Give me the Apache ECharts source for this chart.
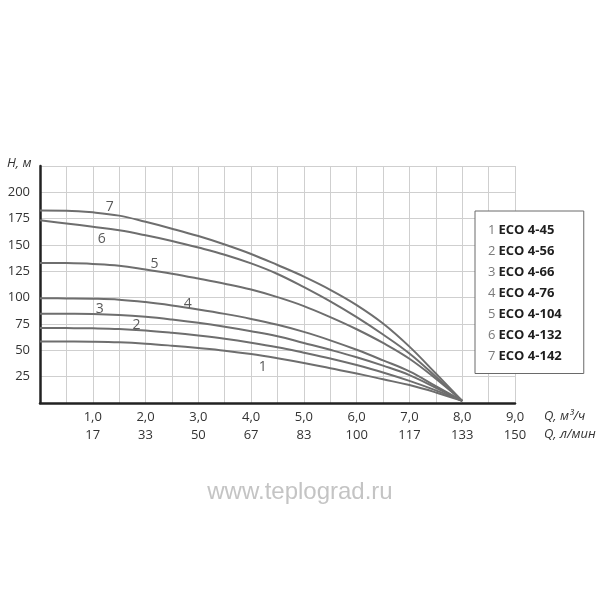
<!DOCTYPE html>
<html>
<head>
<meta charset="utf-8">
<script src="https://cdn.jsdelivr.net/npm/echarts@6/dist/echarts.min.js"></script>
<style>html,body{margin:0;padding:0;background:#fff}#c{width:600px;height:600px}</style>
</head>
<body>
<div id="c"></div>
<script>
// Flow Q, m3/h
var flowQ = [0, 0.5, 1, 1.5, 2, 2.5, 3, 3.5, 4, 4.5, 5, 5.5, 6, 6.5, 7, 7.5, 8];
// Head H, m for each pump
var h1 = [58.5, 58.4, 58.2, 57.6, 56.3, 54.4, 52.2, 49.7, 46.5, 42.5, 38.0, 33.0, 28.0, 22.5, 17.0, 10.0, 2];
var h2 = [71.2, 71.1, 70.9, 70.3, 68.8, 66.6, 64.0, 61.0, 57.3, 53.0, 47.8, 42.3, 36.0, 29.0, 21.0, 12.0, 2];
var h3 = [84.8, 84.7, 84.5, 83.6, 81.8, 79.2, 76.1, 72.4, 68.2, 63.4, 57.0, 50.5, 43.5, 35.5, 26.5, 14.5, 2];
var h4 = [99.4, 99.3, 99.0, 98.1, 95.8, 92.6, 88.8, 84.6, 79.8, 74.2, 67.5, 59.5, 50.5, 40.5, 30.0, 16.0, 2];
var h5 = [133.0, 132.8, 132.0, 130.4, 126.8, 122.8, 118.2, 113.3, 107.7, 100.5, 92.0, 81.5, 70.0, 57.0, 42.0, 23.0, 2];
var h6 = [173.4, 170.4, 167.3, 163.9, 159.2, 153.8, 147.6, 140.8, 132.5, 122.5, 110.0, 96.5, 81.5, 65.0, 47.0, 25.0, 2];
var h7 = [182.8, 182.6, 181.0, 177.9, 172.0, 165.5, 158.5, 150.5, 141.5, 131.0, 120.0, 107.5, 93.0, 75.5, 53.5, 28.0, 2];

var pumpNames = ['ECO 4-45', 'ECO 4-56', 'ECO 4-66', 'ECO 4-76', 'ECO 4-104', 'ECO 4-132', 'ECO 4-142'];
var curveNumbers = ['1', '2', '3', '4', '5', '6', '7'];
// Curve number label anchors [Q, H]
var labelAnchors = [[4.22, 34.2], [1.83, 74], [1.13, 89.3], [2.8, 94], [2.17, 132], [1.17, 155.7], [1.32, 186]];

// Tick labels
var qTickLabels = ['1,0', '2,0', '3,0', '4,0', '5,0', '6,0', '7,0', '8,0', '9,0'];
var lpmTickLabels = ['17', '33', '50', '67', '83', '100', '117', '133', '150'];

var heads = [h1, h2, h3, h4, h5, h6, h7];
var FONT = '"Open Sans", "DejaVu Sans", sans-serif';

var series = heads.map(function (h, i) {
  return {
    name: pumpNames[i],
    type: 'line',
    smooth: 0.4,
    symbol: 'none',
    lineStyle: { color: '#6e6e6e', width: 2 },
    itemStyle: { color: '#6e6e6e' },
    data: flowQ.map(function (q, k) { return [q, h[k]]; }),
    markPoint: {
      symbol: 'circle',
      symbolSize: 1,
      itemStyle: { color: 'rgba(0,0,0,0)' },
      label: { show: true, position: 'inside', formatter: curveNumbers[i], color: '#5a5a5a', fontSize: 14, fontFamily: FONT },
      data: [{ coord: labelAnchors[i] }]
    },
    z: 3
  };
});

var chart = echarts.init(document.getElementById('c'), null, { renderer: 'canvas' });
chart.setOption({
  animation: false,
  backgroundColor: '#fff',
  grid: { left: 40, right: 85, top: 166, bottom: 197 },
  xAxis: {
    type: 'value', min: 0, max: 9, interval: 0.5,
    axisLine: { show: true, onZero: false, lineStyle: { color: '#222', width: 2.5 } },
    axisTick: { show: false },
    splitLine: { show: true, lineStyle: { color: '#cfcfcf', width: 1 } },
    axisLabel: {
      margin: 5, lineHeight: 18, fontSize: 13, color: '#333', fontFamily: FONT,
      formatter: function (v) {
        if (Math.abs(v - Math.round(v)) > 1e-6 || v < 1) return '';
        var i = Math.round(v) - 1;
        return qTickLabels[i] + '\n' + lpmTickLabels[i];
      }
    }
  },
  yAxis: {
    type: 'value', min: 0, max: 225, interval: 25,
    axisLine: { show: true, onZero: false, lineStyle: { color: '#222', width: 2.5 } },
    axisTick: { show: false },
    splitLine: { show: true, lineStyle: { color: '#cfcfcf', width: 1 } },
    axisLabel: {
      margin: 10, fontSize: 13, color: '#333', fontFamily: FONT,
      formatter: function (v) { return (v <= 0 || v >= 225) ? '' : String(v); }
    }
  },
  legend: {
    orient: 'vertical', left: 475, top: 211,
    icon: 'none', itemWidth: 0, itemHeight: 14, itemGap: 7.5,
    padding: [12, 22, 11, 8],
    backgroundColor: '#fff', borderColor: '#6a6a6a', borderWidth: 1,
    selectedMode: false,
    data: pumpNames,
    formatter: function (name) {
      var i = pumpNames.indexOf(name);
      return '{n|' + curveNumbers[i] + '} {b|' + name + '}';
    },
    textStyle: {
      fontFamily: FONT,
      rich: {
        n: { color: '#7a7a7a', fontSize: 13, fontFamily: FONT },
        b: { color: '#1e1e1e', fontSize: 13, fontWeight: 'bold', fontFamily: FONT }
      }
    }
  },
  graphic: [
    { type: 'text', left: 7, top: 157, style: { text: 'H, м', font: 'italic 13px ' + FONT, fill: '#333' } },
    { type: 'text', left: 544, top: 410, style: { text: 'Q, м³/ч', font: 'italic 13px ' + FONT, fill: '#333' } },
    { type: 'text', left: 544, top: 428, style: { text: 'Q, л/мин', font: 'italic 13px ' + FONT, fill: '#333' } },
    { type: 'text', left: 'center', top: 480, style: { text: 'www.teplograd.ru', font: '24px "Liberation Sans", Arial, sans-serif', fill: '#c4c4c4' } }
  ],
  series: series
});
</script>
</body>
</html>
